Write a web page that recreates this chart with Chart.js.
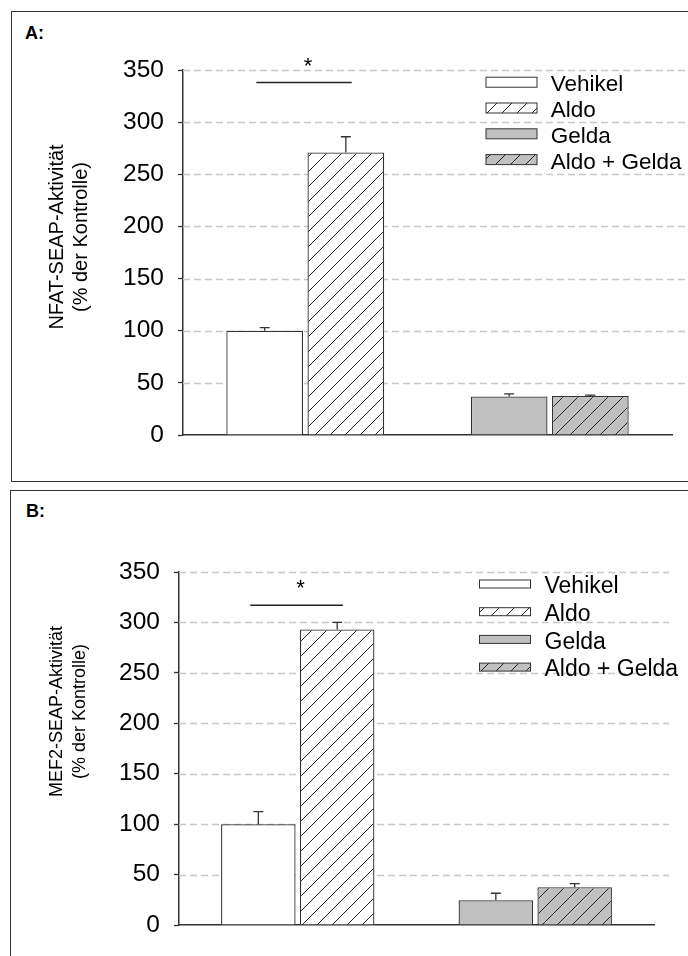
<!DOCTYPE html>
<html>
<head>
<meta charset="utf-8">
<script src="https://cdn.jsdelivr.net/npm/chart.js@4"></script>
<style>
    html, body {
        margin: 0;
        overflow: hidden;
    }
    body {
        width: 688px;
        height: 956px;
        position: relative;
        background: #fff;
        font-family: "Liberation Sans", Arial, sans-serif;
    }
    .frame {
        position: absolute;
        border-top: 1.5px solid #333;
        border-left: 1.5px solid #333;
    }
    #frameA { left: 11px; top: 11px; width: 720px; height: 469px; border-bottom: 1.5px solid #333; }
    #frameB { left: 10px; top: 490px; width: 720px; height: 500px; }
    .tag {
        position: absolute;
        font-weight: bold;
        font-size: 18px;
        line-height: 18px;
    }
    canvas { position: absolute; left: 0; }
    #chartA { top: 0; }
    #chartB { top: 492px; }
</style>
</head>
<body>
<div class="frame" id="frameA"></div>
<div class="frame" id="frameB"></div>
<div class="tag" style="left:25px; top:24px;">A:</div>
<div class="tag" style="left:26px; top:502px;">B:</div>
<canvas id="chartA" width="688" height="480"></canvas>
<canvas id="chartB" width="688" height="464"></canvas>
<script>
const series = ["Vehikel", "Aldo", "Gelda", "Aldo + Gelda"];
const groups = ["ohne Gelda", "mit Gelda"];
const groupOf = [0, 0, 1, 1];
const yTicks = [0, 50, 100, 150, 200, 250, 300, 350];

// NFAT reporter, mean and SEM in % of control
const nfatMean = [100, 271, 37, 37.5];
const nfatSem = [3, 15, 2.5, 0.8];
const nfatSig = 338;

// MEF2 reporter
const mef2Mean = [100, 293, 24.5, 37.5];
const mef2Sem = [12.5, 7, 7, 3.5];
const mef2Sig = 317;

const FONT = "'Liberation Sans', Arial, sans-serif";

window.onload = () => {
    function hatch(base, size) {
        const c = document.createElement("canvas");
        c.width = size;
        c.height = size;
        const g = c.getContext("2d");
        g.fillStyle = base;
        g.fillRect(0, 0, size, size);
        g.strokeStyle = "#222";
        g.lineWidth = 1;
        g.beginPath();
        g.moveTo(0, size);
        g.lineTo(size, 0);
        g.moveTo(-2, 2);
        g.lineTo(2, -2);
        g.moveTo(size - 2, size + 2);
        g.lineTo(size + 2, size - 2);
        g.stroke();
        return g.createPattern(c, "repeat");
    }

    const fills = ["#ffffff", hatch("#ffffff", 15), "#c0c0c0", hatch("#c0c0c0", 15)];

    // dashed grid, error bars, significance bracket, legend and axis title
    const decor = {
        id: "decor",
        beforeDatasetsDraw(chart, args, opts) {
            const { ctx, chartArea } = chart;
            const y = chart.scales.y;
            ctx.save();
            ctx.strokeStyle = "#c8c8c8";
            ctx.lineWidth = 1.3;
            ctx.setLineDash([7, 4]);
            yTicks.forEach((v) => {
                if (v === 0) return;
                const py = Math.round(y.getPixelForValue(v)) + 0.5;
                ctx.beginPath();
                ctx.moveTo(chartArea.left, py);
                ctx.lineTo(chartArea.right + opts.gridExtra, py);
                ctx.stroke();
            });
            ctx.restore();
        },
        afterDatasetsDraw(chart, args, opts) {
            const { ctx } = chart;
            const x = chart.scales.x;
            const y = chart.scales.y;
            ctx.save();
            ctx.strokeStyle = "#333";
            ctx.lineWidth = 1.3;

            // error bars, upper half only
            series.forEach((name, i) => {
                const bar = chart.getDatasetMeta(i).data[groupOf[i]];
                const top = y.getPixelForValue(opts.mean[i] + opts.sem[i]);
                ctx.beginPath();
                ctx.moveTo(bar.x, bar.y);
                ctx.lineTo(bar.x, top);
                ctx.moveTo(bar.x - 5, top);
                ctx.lineTo(bar.x + 5, top);
                ctx.stroke();
            });

            // significance bracket between Vehikel and Aldo
            const sy = y.getPixelForValue(opts.sig);
            const x0 = x.getPixelForValue(-0.2);
            const x1 = x.getPixelForValue(0.19);
            ctx.lineWidth = 1.5;
            ctx.strokeStyle = "#222";
            ctx.beginPath();
            ctx.moveTo(x0, sy);
            ctx.lineTo(x1, sy);
            ctx.stroke();
            ctx.fillStyle = "#000";
            ctx.font = "22px " + FONT;
            ctx.textAlign = "center";
            ctx.textBaseline = "alphabetic";
            ctx.fillText("*", (x0 + x1) / 2 + 4, sy - 10);
            ctx.restore();
        },
        afterDraw(chart, args, opts) {
            const { ctx, chartArea } = chart;
            const lg = opts.legend;
            ctx.save();
            series.forEach((name, i) => {
                const bx = chartArea.left + lg.x;
                const cy = chartArea.top + lg.y + i * lg.step;
                ctx.fillStyle = fills[i];
                ctx.fillRect(bx, cy - lg.boxH / 2, lg.boxW, lg.boxH);
                ctx.strokeStyle = "#333";
                ctx.lineWidth = 1;
                ctx.strokeRect(bx, cy - lg.boxH / 2, lg.boxW, lg.boxH);
                ctx.fillStyle = "#000";
                ctx.font = lg.size + "px " + FONT;
                ctx.textAlign = "left";
                ctx.textBaseline = "alphabetic";
                ctx.fillText(name, bx + lg.gap, cy + lg.size * 0.36 + 1);
            });

            // two-line y axis title
            const t = opts.title;
            ctx.font = t.size + "px " + FONT;
            ctx.textAlign = "center";
            ctx.textBaseline = "alphabetic";
            t.lines.forEach((line, k) => {
                ctx.save();
                ctx.translate(t.x[k], t.y);
                ctx.rotate(-Math.PI / 2);
                ctx.fillText(line, 0, 0);
                ctx.restore();
            });
            ctx.restore();
        },
    };

    function createChart(id, mean, sem, sig, cfg) {
        const datasets = series.map((name, i) => ({
            label: name,
            data: groups.map((g, j) => (j === groupOf[i] ? mean[i] : null)),
            backgroundColor: fills[i],
            borderColor: "#333",
            borderWidth: 1.3,
        }));

        const config = {
            type: "bar",
            data: { labels: groups, datasets: datasets },
            options: {
                responsive: false,
                animation: false,
                layout: { padding: { left: 0, top: cfg.top, right: cfg.right, bottom: 0 } },
                datasets: {
                    bar: { categoryPercentage: 0.664, barPercentage: 0.945, skipNull: true },
                },
                plugins: {
                    legend: { display: false },
                    tooltip: { enabled: false },
                    decor: {
                        mean: mean,
                        sem: sem,
                        sig: sig,
                        gridExtra: cfg.gridExtra,
                        legend: cfg.legend,
                        title: cfg.title,
                    },
                },
                scales: {
                    x: {
                        grid: { drawOnChartArea: false, drawTicks: false },
                        ticks: { display: false },
                        border: { color: "#333", width: 1.5 },
                        afterFit: (scale) => {
                            scale.height = cfg.xHeight;
                        },
                    },
                    y: {
                        min: yTicks[0],
                        max: yTicks[yTicks.length - 1],
                        ticks: {
                            stepSize: yTicks[1] - yTicks[0],
                            padding: 14,
                            color: "#000",
                            font: { family: FONT, size: 24.5 },
                        },
                        grid: { drawOnChartArea: false, tickLength: 5, tickColor: "#333", tickWidth: 1.3 },
                        border: { color: "#333", width: 1.5 },
                        afterFit: (scale) => {
                            scale.width = cfg.yWidth;
                        },
                    },
                },
            },
            plugins: [decor],
        };

        return new Chart(document.getElementById(id), config);
    }

    createChart("chartA", nfatMean, nfatSem, nfatSig, {
        top: 70,
        right: 16,
        yWidth: 183,
        xHeight: 45,
        gridExtra: 16,
        legend: { x: 303, y: 12.2, step: 25.8, boxW: 51, boxH: 10, gap: 64.7, size: 22.5 },
        title: { lines: ["NFAT-SEAP-Aktivität", "(% der Kontrolle)"], x: [63, 86.5], y: 237, size: 20 },
    });

    createChart("chartB", mef2Mean, mef2Sem, mef2Sig, {
        top: 80,
        right: 34,
        yWidth: 179,
        xHeight: 31,
        gridExtra: 15,
        legend: { x: 300.5, y: 12, step: 27.7, boxW: 51, boxH: 8, gap: 65, size: 23 },
        title: { lines: ["MEF2-SEAP-Aktivität", "(% der Kontrolle)"], x: [62, 85], y: 219.5, size: 18 },
    });
};
</script>
</body>
</html>
